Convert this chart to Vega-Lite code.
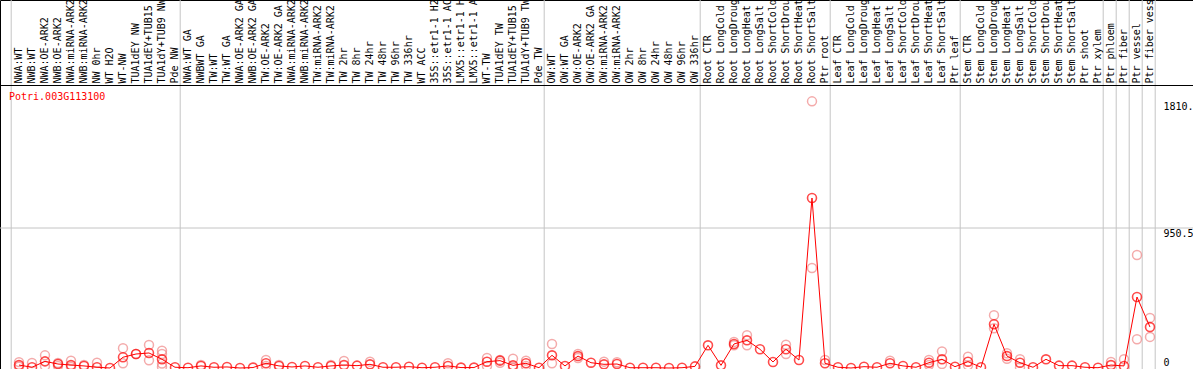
{
  "$schema": "https://vega.github.io/schema/vega-lite/v6.json",
  "width": 1193,
  "height": 369,
  "autosize": {"type": "none"},
  "padding": 0,
  "background": "white",
  "config": {"view": {"stroke": "black", "strokeWidth": 1}, "font": "DejaVu Sans Mono"},
  "datasets": {
    "samples": [
      {"i": 0, "s": "NWA:WT", "m": 20, "r": [40, 8]},
      {"i": 1, "s": "NWB:WT", "m": 5, "r": [34]},
      {"i": 2, "s": "NWA:OE-ARK2", "m": 45, "r": [86, 14]},
      {"i": 3, "s": "NWB:OE-ARK2", "m": 27, "r": [34, 14]},
      {"i": 4, "s": "NWA:miRNA-ARK2", "m": 20, "r": [50, 7]},
      {"i": 5, "s": "NWB:miRNA-ARK2", "m": 14, "r": [20]},
      {"i": 6, "s": "NW 0hr", "m": 5, "r": [36]},
      {"i": 7, "s": "WT H2O", "m": 0, "r": []},
      {"i": 8, "s": "WT-NW", "m": 73, "r": [134, 32]},
      {"i": 9, "s": "TUA1dEY NW", "m": 95, "r": [95]},
      {"i": 10, "s": "TUA1dEY+TUB15", "m": 102, "r": [156, 52]},
      {"i": 11, "s": "TUA1dY+TUB9 NW", "m": 59, "r": [117, 95, 30, 8]},
      {"i": 12, "s": "Pde NW", "m": 5, "r": []},
      {"i": 13, "s": "NWA:WT GA", "m": 2, "r": []},
      {"i": 14, "s": "NWBWT GA", "m": 14, "r": [20]},
      {"i": 15, "s": "TW:WT", "m": 5, "r": []},
      {"i": 16, "s": "TW:WT GA", "m": 7, "r": []},
      {"i": 17, "s": "NWA:OE-ARK2 GA", "m": 0, "r": []},
      {"i": 18, "s": "NWB:OE-ARK2 GA", "m": 3, "r": []},
      {"i": 19, "s": "TW:OE-ARK2", "m": 32, "r": [54, 14]},
      {"i": 20, "s": "TW:OE-ARK2 GA", "m": 14, "r": [20]},
      {"i": 21, "s": "NWA:miRNA-ARK2", "m": 7, "r": []},
      {"i": 22, "s": "NWB:miRNA-ARK2", "m": 14, "r": []},
      {"i": 23, "s": "TW:miRNA-ARK2", "m": 5, "r": []},
      {"i": 24, "s": "TW:miRNA-ARK2", "m": 14, "r": [20]},
      {"i": 25, "s": "TW 2hr", "m": 20, "r": [48]},
      {"i": 26, "s": "TW 8hr", "m": 16, "r": []},
      {"i": 27, "s": "TW 24hr", "m": 25, "r": [43]},
      {"i": 28, "s": "TW 48hr", "m": 5, "r": []},
      {"i": 29, "s": "TW 96hr", "m": 5, "r": []},
      {"i": 30, "s": "TW 336hr", "m": 9, "r": []},
      {"i": 31, "s": "WT ACC", "m": 2, "r": []},
      {"i": 32, "s": "35S::etr1-1 H2", "m": 5, "r": []},
      {"i": 33, "s": "35S::etr1-1 AC", "m": 14, "r": [32]},
      {"i": 34, "s": "LMX5::etr1-1 H", "m": 3, "r": []},
      {"i": 35, "s": "LMX5::etr1-1 A", "m": 3, "r": []},
      {"i": 36, "s": "WT-TW", "m": 43, "r": [68, 14]},
      {"i": 37, "s": "TUA1dEY TW", "m": 50, "r": [55, 36]},
      {"i": 38, "s": "TUA1dEY+TUB15", "m": 18, "r": [63, 3]},
      {"i": 39, "s": "TUA1dY+TUB9 TW", "m": 32, "r": [50, 14]},
      {"i": 40, "s": "Pde TW", "m": 2, "r": []},
      {"i": 41, "s": "OW:WT", "m": 86, "r": [163, 32]},
      {"i": 42, "s": "OW:WT GA", "m": 14, "r": []},
      {"i": 43, "s": "OW:OE-ARK2", "m": 81, "r": [95, 68]},
      {"i": 44, "s": "OW:OE-ARK2 GA", "m": 36, "r": []},
      {"i": 45, "s": "OW:miRNA-ARK2", "m": 25, "r": [43]},
      {"i": 46, "s": "OW:miRNA-ARK2", "m": 27, "r": [39]},
      {"i": 47, "s": "OW 2hr", "m": 2, "r": []},
      {"i": 48, "s": "OW 8hr", "m": 2, "r": []},
      {"i": 49, "s": "OW 24hr", "m": 2, "r": []},
      {"i": 50, "s": "OW 48hr", "m": 0, "r": []},
      {"i": 51, "s": "OW 96hr", "m": 2, "r": []},
      {"i": 52, "s": "OW 336hr", "m": 11, "r": []},
      {"i": 53, "s": "Root CTR", "m": 154, "r": []},
      {"i": 54, "s": "Root LongCold", "m": 18, "r": []},
      {"i": 55, "s": "Root LongDroug", "m": 163, "r": [177, 154]},
      {"i": 56, "s": "Root LongHeat", "m": 188, "r": [222, 154]},
      {"i": 57, "s": "Root LongSalt", "m": 127, "r": []},
      {"i": 58, "s": "Root ShortCold", "m": 41, "r": []},
      {"i": 59, "s": "Root ShortDrou", "m": 127, "r": [158, 95]},
      {"i": 60, "s": "Root ShortHeat", "m": 54, "r": []},
      {"i": 61, "s": "Root ShortSalt", "m": 1154, "r": [1810.5, 679]},
      {"i": 62, "s": "Ptr root", "m": 32, "r": [54]},
      {"i": 63, "s": "Leaf CTR", "m": 5, "r": []},
      {"i": 64, "s": "Leaf LongCold", "m": 0, "r": []},
      {"i": 65, "s": "Leaf LongDroug", "m": 9, "r": []},
      {"i": 66, "s": "Leaf LongHeat", "m": 5, "r": []},
      {"i": 67, "s": "Leaf LongSalt", "m": 32, "r": [50]},
      {"i": 68, "s": "Leaf ShortCold", "m": 14, "r": []},
      {"i": 69, "s": "Leaf ShortDrou", "m": 5, "r": []},
      {"i": 70, "s": "Leaf ShortHeat", "m": 36, "r": [54, 20]},
      {"i": 71, "s": "Leaf ShortSalt", "m": 59, "r": [113, 27]},
      {"i": 72, "s": "Ptr leaf", "m": 9, "r": []},
      {"i": 73, "s": "Stem CTR", "m": 43, "r": [77, 18]},
      {"i": 74, "s": "Stem LongCold", "m": 5, "r": []},
      {"i": 75, "s": "Stem LongDroug", "m": 297, "r": [358, 270]},
      {"i": 76, "s": "Stem LongHeat", "m": 81, "r": [100, 63]},
      {"i": 77, "s": "Stem LongSalt", "m": 36, "r": [59, 5]},
      {"i": 78, "s": "Stem ShortCold", "m": 5, "r": []},
      {"i": 79, "s": "Stem ShortDrou", "m": 59, "r": []},
      {"i": 80, "s": "Stem ShortHeat", "m": 16, "r": []},
      {"i": 81, "s": "Stem ShortSalt", "m": 16, "r": []},
      {"i": 82, "s": "Ptr shoot", "m": 5, "r": []},
      {"i": 83, "s": "Ptr xylem", "m": 2, "r": []},
      {"i": 84, "s": "Ptr phloem", "m": 20, "r": [41]},
      {"i": 85, "s": "Ptr fiber", "m": 14, "r": [59]},
      {"i": 86, "s": "Ptr vessel", "m": 482, "r": [767, 195]},
      {"i": 87, "s": "Ptr fiber vess", "m": 278, "r": [340, 211]}
    ],
    "seps": [
      {"pos": -0.6}, {"pos": 12.4}, {"pos": 40.4}, {"pos": 52.4}, {"pos": 62.4},
      {"pos": 72.4}, {"pos": 83.4}, {"pos": 84.4}, {"pos": 85.4}, {"pos": 86.4}, {"pos": 87.4}
    ],
    "gene": [{"gene": "Potri.003G113100", "mid": 950.5}]
  },
  "layer": [
    {
      "data": {"name": "seps"},
      "mark": {"type": "rule", "color": "#c4c4c4", "strokeWidth": 1},
      "encoding": {
        "x": {"field": "pos", "type": "quantitative", "scale": {"domain": [-1.4615, 90.308], "nice": false, "zero": false}, "axis": null}
      }
    },
    {
      "data": {"name": "gene"},
      "mark": {"type": "rule", "color": "#c4c4c4", "strokeWidth": 1},
      "encoding": {
        "y": {
          "field": "mid", "type": "quantitative",
          "scale": {"domain": [-6.8, 2498.5], "nice": false, "zero": false},
          "axis": {
            "orient": "right", "offset": -33, "values": [0, 950.5, 1810.5],
            "labelExpr": "datum.value == 0 ? '0' : (datum.value == 950.5 ? '950.5' : '1810.')",
            "ticks": false, "domain": false, "grid": false, "title": null,
            "labelAlign": "left", "labelPadding": 3,
            "labelBaseline": {"condition": {"test": "datum.value == 0", "value": "bottom"}, "value": "top"},
            "labelFont": "DejaVu Sans Mono", "labelFontSize": 10, "labelColor": "black"
          }
        }
      }
    },
    {
      "data": {"name": "gene"},
      "mark": {"type": "rule", "color": "black", "strokeWidth": 1},
      "encoding": {
        "y": {"datum": 1918, "type": "quantitative"}
      }
    },
    {
      "data": {"name": "samples"},
      "transform": [{"flatten": ["r"]}],
      "mark": {"type": "point", "shape": "circle", "filled": false, "color": "#f08888", "size": 80, "strokeWidth": 1.5},
      "encoding": {
        "x": {"field": "i", "type": "quantitative", "axis": null},
        "y": {"field": "r", "type": "quantitative"}
      }
    },
    {
      "data": {"name": "samples"},
      "mark": {"type": "line", "color": "#ff0000", "strokeWidth": 1},
      "encoding": {
        "x": {"field": "i", "type": "quantitative", "axis": null},
        "y": {"field": "m", "type": "quantitative"}
      }
    },
    {
      "data": {"name": "samples"},
      "mark": {"type": "point", "shape": "circle", "filled": false, "color": "#ff0000", "size": 80, "strokeWidth": 1.6},
      "encoding": {
        "x": {"field": "i", "type": "quantitative", "axis": null},
        "y": {"field": "m", "type": "quantitative"}
      }
    },
    {
      "data": {"name": "samples"},
      "mark": {"type": "text", "angle": 270, "align": "left", "baseline": "middle", "font": "DejaVu Sans Mono", "fontSize": 10, "color": "black"},
      "encoding": {
        "x": {"field": "i", "type": "quantitative", "axis": null},
        "y": {"datum": 1931.6, "type": "quantitative"},
        "text": {"field": "s"}
      }
    },
    {
      "data": {"name": "gene"},
      "mark": {"type": "text", "align": "left", "baseline": "middle", "font": "DejaVu Sans Mono", "fontSize": 10, "color": "#ff0000"},
      "encoding": {
        "x": {"datum": -0.77, "type": "quantitative", "axis": null},
        "y": {"datum": 1840, "type": "quantitative"},
        "text": {"field": "gene"}
      }
    }
  ]
}
